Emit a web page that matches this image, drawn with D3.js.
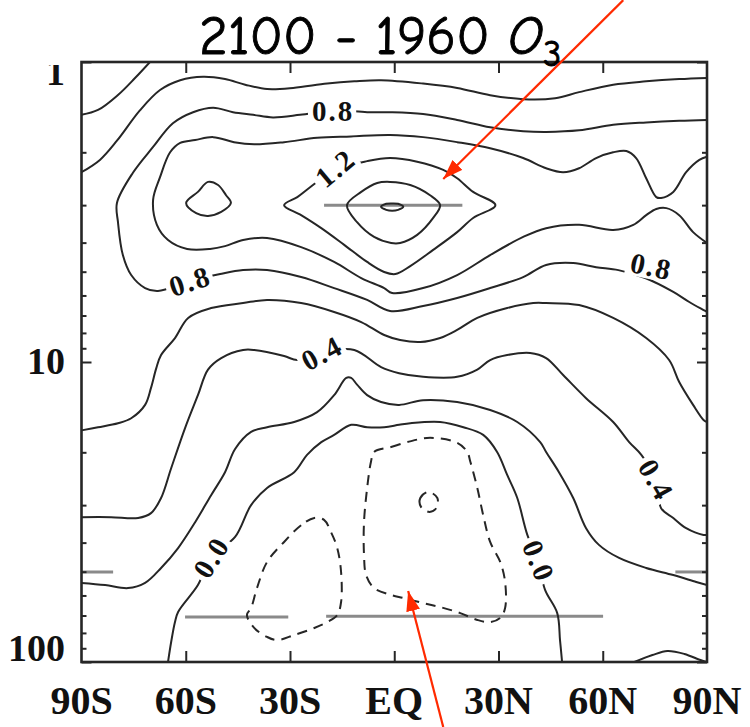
<!DOCTYPE html>
<html>
<head>
<meta charset="utf-8">
<script src="https://cdn.jsdelivr.net/npm/d3@7"></script>
<style>
  body { margin: 0; background: #fff; }
  svg { display: block; }
</style>
</head>
<body>
<svg id="chart" width="750" height="727"></svg>
<script>
// Zonal-mean ozone change, 2100 minus 1960 (ppmv), latitude vs pressure (hPa)

// ---- axes ----
const latTicks = [-90, -60, -30, 0, 30, 60, 90];
const latTickLabels = ["90S", "60S", "30S", "EQ", "30N", "60N", "90N"];
const pressureTicks = [1, 10, 100];
const pressureTickLabels = ["1", "10", "100"];
const minorPressureTicks = [2, 3, 4, 5, 6, 7, 8, 9, 20, 30, 40, 50, 60, 70, 80, 90];

// ---- contour lines, [latitude, pressure hPa] ----
const c04TopCorner = [[-90,1.50],[-85.25,1.445],[-79.5,1.288],[-74.6,1.131],[-70.3,1.0]];
const c06Upper = [[-90,2.33],[-84.7,2.12],[-79.8,1.83],[-73.2,1.45],[-67.4,1.24],[-61.6,1.15],[-55,1.12],[-48.7,1.14],[-42.9,1.19],[-36.6,1.23],[-29.1,1.22],[-19.3,1.18],[-11.5,1.16],[-3.8,1.15],[8.3,1.18],[18.1,1.22],[27.6,1.29],[37.1,1.33],[46.3,1.32],[53.2,1.26],[63,1.19],[72.5,1.16],[82,1.14],[90,1.13]];
const c08 = [[90,1.56],[82,1.57],[72.5,1.59],[63,1.62],[53.2,1.69],[43.7,1.71],[37.1,1.70],[27.6,1.65],[18.1,1.56],[8.3,1.49],[-1.2,1.47],[-7.8,1.47],[-17.6,1.45],[-27.1,1.50],[-34.9,1.53],[-40.6,1.50],[-46.4,1.47],[-52.1,1.42],[-57.9,1.47],[-63.7,1.60],[-69.4,1.92],[-75.2,2.34],[-79.8,2.95],[-79.5,3.42],[-78.1,4.40],[-75.7,5.13],[-71.7,5.67],[-68,5.80],[-58.8,5.37],[-50.1,5.09],[-43.5,4.94],[-36.6,4.94],[-26.8,5.21],[-17.3,5.67],[-7.8,6.21],[-1.2,6.76],[8.3,6.51],[18.1,6.12],[27.6,5.67],[37.1,5.21],[43.7,4.75],[51.5,4.68],[58.1,4.83],[64.5,4.94],[72.2,5.25],[80.3,5.84],[84.9,6.31],[89,6.71],[90,6.81]];
const c10 = [[90,2.07],[87.8,2.12],[84,2.33],[80.3,2.71],[76.8,2.84],[75.4,2.82],[72.5,2.44],[69.6,2.09],[66.8,1.98],[63,2.0],[58.1,2.09],[53.2,2.26],[48.6,2.33],[43.7,2.26],[37.1,2.09],[27.6,1.94],[18.1,1.85],[8.3,1.78],[-1.2,1.75],[-12.4,1.77],[-22.2,1.79],[-31.7,1.85],[-40.3,1.88],[-46.1,1.85],[-52.1,1.78],[-57.3,1.82],[-61.6,1.86],[-64.5,2.0],[-67.4,2.42],[-69.4,2.88],[-68.3,3.49],[-65.1,3.92],[-59.6,4.2],[-53,4.2],[-48.7,4.11],[-43.5,3.92],[-36.6,3.86],[-26.8,4.14],[-17.3,4.64],[-9.5,5.25],[-2.9,5.67],[-0.6,5.89],[8.3,5.67],[18.1,5.13],[27.6,4.4],[37.1,3.83],[43.7,3.58],[53.2,3.49],[63,3.63],[68.8,3.49],[72.5,3.24],[75.4,3.09],[78.3,3.07],[82,3.24],[86,3.69],[90,4.01]];
const c12Center = [[-31.7,3.0],[-27.9,2.82],[-24.5,2.63],[-17,2.29],[-7.8,2.14],[-1.2,2.09],[6.6,2.15],[14.1,2.29],[18.1,2.44],[22.7,2.71],[29.1,3.0],[22.7,3.31],[18.1,3.69],[11.2,4.23],[4.6,4.79],[0.3,5.09],[-2.9,5.01],[-7.8,4.64],[-14.4,4.07],[-21,3.58],[-26.8,3.24]];
const c12South = [[-59.9,2.95],[-56.5,2.71],[-53.6,2.51],[-50.7,2.57],[-48.4,2.78],[-47,2.95],[-49.8,3.16],[-53.6,3.26],[-57,3.19]];
const c14 = [[-13.6,3.0],[-9.5,2.71],[-4.9,2.53],[-1.2,2.51],[4.6,2.57],[10.3,2.78],[13.2,3.0],[11.2,3.31],[6.6,3.77],[1.7,4.01],[-0.9,4.01],[-5.8,3.83],[-10.7,3.42]];
const c16 = [[-3.8,3.04],[-2.3,2.97],[-0.6,2.96],[1.1,2.97],[2.6,3.04],[1.1,3.11],[-0.6,3.13],[-2.3,3.11]];
const c06Lower = [[-90,16.9],[-85.25,16.5],[-79.5,16.0],[-75.7,15.4],[-71.7,13.9],[-70,12.2],[-68.5,10.5],[-67.1,9.48],[-63.1,8.32],[-59.3,7.13],[-52.7,6.61],[-43.5,6.36],[-36.6,6.21],[-26.8,6.36],[-17.3,6.81],[-9.5,7.36],[-2.9,8.13],[1.7,8.45],[7.5,8.58],[13.2,8.32],[18.1,7.82],[23.9,7.13],[32.5,6.61],[40,6.36],[43.7,6.36],[53.2,6.46],[63,7.13],[72.5,8.32],[79.1,9.85],[82,11.66],[86,13.9],[89,15.6],[90,15.85]];
const c04Lower = [[-90,32.9],[-81.5,32.9],[-73.7,33.1],[-70,31.9],[-67.1,28.4],[-64.2,22.6],[-60.2,16.6],[-56.5,12.9],[-53.6,10.6],[-49.8,9.7],[-43.5,9.12],[-40.3,9.12],[-31.7,9.55],[-27.9,9.85],[-20.8,9.26],[-11.5,9.12],[-3.8,10.4],[1.4,10.9],[8.3,11.2],[18.1,11.2],[23.9,10.6],[27.6,9.85],[32.5,9.48],[39.1,9.33],[43.7,9.7],[48.6,11.05],[55.2,13.2],[63,15.85],[67.6,18.5],[71.1,20.4],[75.4,24.7],[76.8,30.7],[80.3,33.1],[84,35.8],[89,37.7],[90,37.7]];
const c02 = [[-90,54.5],[-83.2,55.4],[-76.6,56.7],[-71.7,54.5],[-67.1,48.6],[-62.2,41.7],[-57.3,34.2],[-52.7,27.8],[-48.7,23.3],[-45.8,19.5],[-41.2,17.1],[-36.6,16.5],[-28.8,15.85],[-22.2,14.7],[-17.3,12.9],[-13.8,11.3],[-12.4,11.3],[-10.7,11.9],[-7.8,12.9],[-3.8,13.6],[1.4,13.9],[8.3,13.4],[18.1,13.6],[27.6,14.45],[35.4,15.85],[42,18.5],[43.7,19.95],[47.4,23.3],[51.5,28.4],[55.2,35.8],[58.9,40.7],[64.7,45.0],[72.5,48.6],[80.3,51.3],[86.9,54.1],[90,55.4]];
const c00 = [[-65.1,100],[-64.2,85.8],[-63.1,73.6],[-62.2,68.1],[-56.5,55.4],[-52.7,44.7],[-45.8,38.3],[-41.2,30.0],[-36.6,26.3],[-28.8,23.3],[-25.1,20.4],[-21,18.5],[-17.3,17.5],[-12.4,16.2],[-7.8,16.5],[-2.9,16.5],[1.4,16.2],[4.6,16.0],[13.2,15.85],[19.9,16.5],[25.6,17.5],[29.6,19.95],[32.5,23.8],[35.4,28.4],[38.3,37.7],[41.4,46.1],[43.4,57.5],[46.9,68.7],[47.7,84.5],[48.3,100]];
const c02Corner = [[69.1,100],[74.3,94.8],[78.6,91.9],[83.5,94.0],[88.1,98.5],[90,100]];
const cNeg02Center = [[-5.8,19.95],[-0.9,19.2],[3.7,18.5],[10.3,17.9],[18.1,18.6],[21,19.95],[21.9,21.5],[23.9,26.3],[25.6,32.4],[27.6,39.8],[30.5,46.4],[31.9,54.1],[31.9,66.1],[30.5,71.3],[27.6,73.6],[23.9,72.4],[19,68.7],[13.2,65.6],[8.3,63.6],[2.6,61.2],[-0.9,59.8],[-5.8,56.7],[-8.1,51.3],[-8.7,44.0],[-8.7,34.2],[-7.8,26.3],[-6.7,21.5]];
const cNeg02South = [[-23,33.1],[-26.8,35.0],[-31.7,39.8],[-36.6,46.4],[-39.5,56.7],[-41.2,66.1],[-42.4,69.7],[-40.3,77.0],[-36.6,82.5],[-33.7,84.5],[-28.8,81.3],[-23,77.0],[-19.3,73.6],[-16.4,69.7],[-15.3,63.1],[-15.3,50.1],[-16.4,41.7],[-18.2,36.9],[-20.2,33.6]];
const cNeg04 = [[9.8,27.1],[7.5,28.4],[7.7,30.4],[10.1,31.6],[12.1,30.7],[12.4,28.4]];

const contours = [
  { level: 0.4, points: c04TopCorner, closed: false },
  { level: 0.6, points: c06Upper, closed: false },
  { level: 0.8, points: c08, closed: false },
  { level: 1.0, points: c10, closed: false },
  { level: 1.2, points: c12Center, closed: true },
  { level: 1.2, points: c12South, closed: true },
  { level: 1.4, points: c14, closed: true },
  { level: 1.6, points: c16, closed: true },
  { level: 0.6, points: c06Lower, closed: false },
  { level: 0.4, points: c04Lower, closed: false },
  { level: 0.2, points: c02, closed: false },
  { level: 0.0, points: c00, closed: false },
  { level: 0.2, points: c02Corner, closed: false },
  { level: -0.2, points: cNeg02Center, closed: true },
  { level: -0.2, points: cNeg02South, closed: true },
  { level: -0.4, points: cNeg04, closed: true }
];

// in-line contour labels: level, position [lat, hPa], rotation (deg)
const contourLabels = [
  { level: 0.8, lat: -17.6, p: 1.457, angle: 0 },
  { level: 1.2, lat: -17.0, p: 2.256, angle: -40 },
  { level: 0.8, lat: -58.8, p: 5.37, angle: -18 },
  { level: 0.8, lat: 74.0, p: 4.79, angle: 12 },
  { level: 0.4, lat: -20.8, p: 9.33, angle: -28 },
  { level: 0.4, lat: 75.4, p: 24.7, angle: 60 },
  { level: 0.0, lat: -52.7, p: 44.7, angle: -58 },
  { level: 0.0, lat: 41.6, p: 46.1, angle: 68 }
];

// grey horizontal segments, [lat start, lat end, hPa]
const greySegments = [
  [-20.2, 19.6, 3.0],
  [-90, -80.9, 50.1],
  [-60.2, -30.5, 70.8],
  [-19.6, 60.1, 70.4],
  [80.9, 90, 50.1]
];

// red pointer arrows, from -> to in [lat, hPa]
const pointerArrows = [
  { from: [65.9, 0.622], to: [14.1, 2.455] },
  { from: [14.1, 164.7], to: [4.0, 58.0] }
];

// ---- drawing ----
const W = 750, H = 727;
const plot = { left: 81.5, right: 707, top: 62, bottom: 662 };
const ink = "#262626";

const x = d3.scaleLinear().domain([-90, 90]).range([plot.left, plot.right]);
const y = d3.scaleLog().domain([1, 100]).range([plot.top, plot.bottom]);

const svg = d3.select("#chart");
svg.append("rect").attr("width", W).attr("height", H).attr("fill", "#fff");

const defs = svg.append("defs");
defs.append("clipPath").attr("id", "plotClip")
  .append("rect")
  .attr("x", plot.left).attr("y", plot.top)
  .attr("width", plot.right - plot.left).attr("height", plot.bottom - plot.top);
defs.append("clipPath").attr("id", "topLabelClip")
  .append("rect").attr("x", 0).attr("y", plot.top + 3).attr("width", plot.left).attr("height", 60);
defs.append("marker")
  .attr("id", "redHead")
  .attr("viewBox", "0 -7 20 14")
  .attr("refX", 20).attr("refY", 0)
  .attr("markerWidth", 20).attr("markerHeight", 14)
  .attr("markerUnits", "userSpaceOnUse")
  .attr("orient", "auto")
  .append("path").attr("d", "M0,-7L20,0L0,7Z").attr("fill", "#ff2a00");

const openLine = d3.line().x(d => x(d[0])).y(d => y(d[1])).curve(d3.curveCatmullRom.alpha(0.5));
const closedLine = d3.line().x(d => x(d[0])).y(d => y(d[1])).curve(d3.curveCatmullRomClosed.alpha(0.5));

const field = svg.append("g").attr("clip-path", "url(#plotClip)");

// grey segments
field.append("g").selectAll("line").data(greySegments).join("line")
  .attr("x1", d => x(d[0])).attr("x2", d => x(d[1]))
  .attr("y1", d => y(d[2])).attr("y2", d => y(d[2]))
  .attr("stroke", "#8a8a8a").attr("stroke-width", 3);

// contour lines; negative levels dashed
field.append("g").selectAll("path").data(contours).join("path")
  .attr("d", d => (d.closed ? closedLine : openLine)(d.points))
  .attr("fill", "none")
  .attr("stroke", ink)
  .attr("stroke-width", 2)
  .attr("stroke-linejoin", "round")
  .attr("stroke-dasharray", d => d.level < 0 ? "10,7" : null);

// contour labels with a white gap behind them
const labelG = svg.append("g");
contourLabels.forEach(d => {
  const g = labelG.append("g")
    .attr("transform", `translate(${x(d.lat)},${y(d.p)}) rotate(${d.angle})`);
  const t = g.append("text")
    .attr("text-anchor", "middle")
    .attr("dy", "0.35em")
    .attr("font-family", "'Liberation Serif', 'Times New Roman', serif")
    .attr("font-weight", "bold")
    .attr("font-size", 29)
    .attr("letter-spacing", 2)
    .attr("fill", "#111")
    .text(d3.format(".1f")(d.level));
  const b = t.node().getBBox();
  g.insert("rect", "text")
    .attr("x", b.x - 4).attr("y", b.y + 3)
    .attr("width", b.width + 6).attr("height", b.height - 6)
    .attr("fill", "#fff");
});

// frame
svg.append("rect")
  .attr("x", plot.left).attr("y", plot.top)
  .attr("width", plot.right - plot.left).attr("height", plot.bottom - plot.top)
  .attr("fill", "none").attr("stroke", ink).attr("stroke-width", 2.6);

// ticks (inward) via d3 axes
function ticks(axis, tx, ty) {
  const g = svg.append("g").attr("transform", `translate(${tx},${ty})`).call(axis);
  g.select(".domain").remove();
  g.selectAll("line").attr("stroke", ink).attr("stroke-width", 2);
  g.selectAll("text").remove();
  return g;
}
const innerLat = latTicks.slice(1, -1);
ticks(d3.axisBottom(x).tickValues(innerLat).tickSize(11), 0, plot.top);
ticks(d3.axisTop(x).tickValues(innerLat).tickSize(11), 0, plot.bottom);
ticks(d3.axisRight(y).tickValues(pressureTicks).tickSize(10), plot.left, 0);
ticks(d3.axisRight(y).tickValues(minorPressureTicks).tickSize(5), plot.left, 0);
ticks(d3.axisLeft(y).tickValues(pressureTicks).tickSize(10), plot.right, 0);
ticks(d3.axisLeft(y).tickValues(minorPressureTicks).tickSize(5), plot.right, 0);

// tick labels
const labelFont = "'Liberation Serif', 'Times New Roman', serif";
svg.append("g").selectAll("text").data(latTicks).join("text")
  .attr("x", d => x(d))
  .attr("y", plot.bottom + 52)
  .attr("text-anchor", "middle")
  .attr("font-family", labelFont).attr("font-weight", "bold").attr("font-size", 40)
  .attr("fill", "#111")
  .text((d, i) => latTickLabels[i]);

svg.append("g").selectAll("text").data(pressureTicks).join("text")
  .attr("x", plot.left - 16.5)
  .attr("y", d => Math.min(Math.max(y(d) + 12, plot.top + 23), plot.bottom - 1))
  .attr("text-anchor", "end")
  .attr("font-family", labelFont).attr("font-weight", "bold").attr("font-size", 38)
  .attr("fill", "#111")
  .attr("clip-path", (d, i) => i === 0 ? "url(#topLabelClip)" : null)
  .text((d, i) => pressureTickLabels[i]);

// title
const title = svg.append("text")
  .attr("x", 199).attr("y", 54)
  .attr("font-family", "'Comic Sans MS', 'Comic Neue', 'Open Sans', sans-serif")
  .attr("font-size", 55)
  .attr("fill", "#000")
  .attr("stroke", "#000")
  .attr("stroke-width", 0.9);
title.append("tspan").text("2100 - 1960 ");
title.append("tspan").attr("font-style", "italic").text("O");
title.append("tspan").attr("font-size", 36).attr("dy", 12).text("3");

// red pointer arrows
svg.append("g").selectAll("line").data(pointerArrows).join("line")
  .attr("x1", d => x(d.from[0])).attr("y1", d => y(d.from[1]))
  .attr("x2", d => x(d.to[0])).attr("y2", d => y(d.to[1]))
  .attr("stroke", "#ff2a00").attr("stroke-width", 2.2)
  .attr("marker-end", "url(#redHead)");
</script>
</body>
</html>
